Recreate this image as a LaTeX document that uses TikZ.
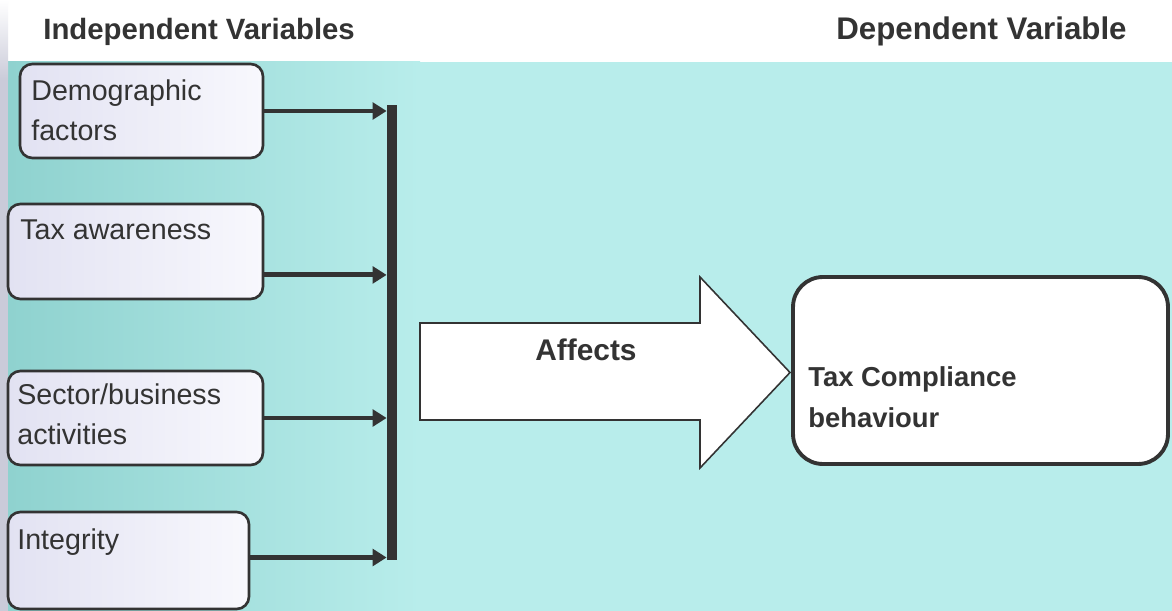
\documentclass[tikz,border=0pt]{standalone}
\usepackage{fontspec}
\setmainfont{Liberation Sans}
\usetikzlibrary{arrows.meta,calc}
\definecolor{bgcyan}{HTML}{B8EDEB}
\definecolor{bgteal}{HTML}{8FD2CF}
\definecolor{ink}{HTML}{333333}
\definecolor{boxa}{HTML}{E2E2F2}
\definecolor{boxb}{HTML}{F8F8FD}
\definecolor{scanedge}{HTML}{CACBD9}
\begin{document}
\begin{tikzpicture}[x=0.02cm,y=-0.02cm,
  ivbox/.style={draw=ink, line width=1.5pt, rounded corners=7pt, left color=boxa, right color=boxb, inner sep=0pt},
  lbl/.style={anchor=north west, inner sep=0pt, align=left, text=ink, font=\fontsize{16.3}{22.8}\selectfont},
  hdr/.style={anchor=north west, inner sep=0pt, text=ink, font=\fontsize{16.7}{20}\selectfont\bfseries},
  conn/.style={draw=ink, line width=2.8pt, -{Triangle[length=8pt,width=9.5pt]}},
  bigarrow/.style={draw=ink, line width=0.9pt, fill=white},
  dvbox/.style={draw=ink, line width=2.2pt, rounded corners=17pt, fill=white, inner sep=0pt},
]
\useasboundingbox (0,0) rectangle (1172,611);
% background
\fill[white] (0,0) rectangle (1172,611);
\shade[left color=bgteal, right color=bgcyan] (8,62) rectangle (420,611);
\fill[bgcyan] (419,62) rectangle (1172,611);
\shade[top color=white, bottom color=scanedge] (0,0) rectangle (8,80);
\fill[scanedge] (0,80) rectangle (8,611);

% headers
\node[hdr] (h1) at (43,18) {Independent Variables};
\node[hdr, font=\fontsize{17.8}{20}\selectfont\bfseries] (h2) at (836,16) {Dependent Variable};

% independent variable boxes
\node[ivbox, minimum width=4.86cm, minimum height=1.88cm] (b1) at (141.5,111) {};
\node[ivbox, minimum width=5.10cm, minimum height=1.90cm] (b2) at (135.5,251.5) {};
\node[ivbox, minimum width=5.10cm, minimum height=1.88cm] (b3) at (135.5,418) {};
\node[ivbox, minimum width=4.82cm, minimum height=1.94cm] (b4) at (128.5,560.5) {};

\node[lbl] (l1) at (31,79) {Demographic\\factors};
\node[lbl] (l2) at (20,219) {Tax awareness};
\node[lbl] (l3) at (17,383) {Sector/business\\activities};
\node[lbl] (l4) at (17,528) {Integrity};

% collecting bar
\node[fill=ink, inner sep=0pt, minimum width=0.2cm, minimum height=9.1cm] (bar) at (392,332.5) {};

% connectors
\draw[conn] (b1.east) -- (b1.east -| bar.west);
\path ($(b2.north east)!0.74!(b2.south east)$) coordinate (s2);
\draw[conn] (s2) -- (s2 -| bar.west);
\draw[conn] (b3.east) -- (b3.east -| bar.west);
\path ($(b4.north east)!0.47!(b4.south east)$) coordinate (s4);
\draw[conn] (s4) -- (s4 -| bar.west);

% big block arrow
\draw[bigarrow] (420,323) -- (700,323) -- (700,277) -- (790,372.5) -- (700,468) -- (700,420) -- (420,420) -- cycle;
\node[lbl, font=\fontsize{17}{20}\selectfont\bfseries] (aff) at (535,339) {Affects};

% dependent variable box
\node[dvbox, minimum width=7.5cm, minimum height=3.74cm] (dv) at (980.5,370.5) {};
\node[lbl, font=\fontsize{15.6}{23.3}\selectfont\bfseries] (dvl) at (808,366) {Tax Compliance\\behaviour};
\end{tikzpicture}
\end{document}
